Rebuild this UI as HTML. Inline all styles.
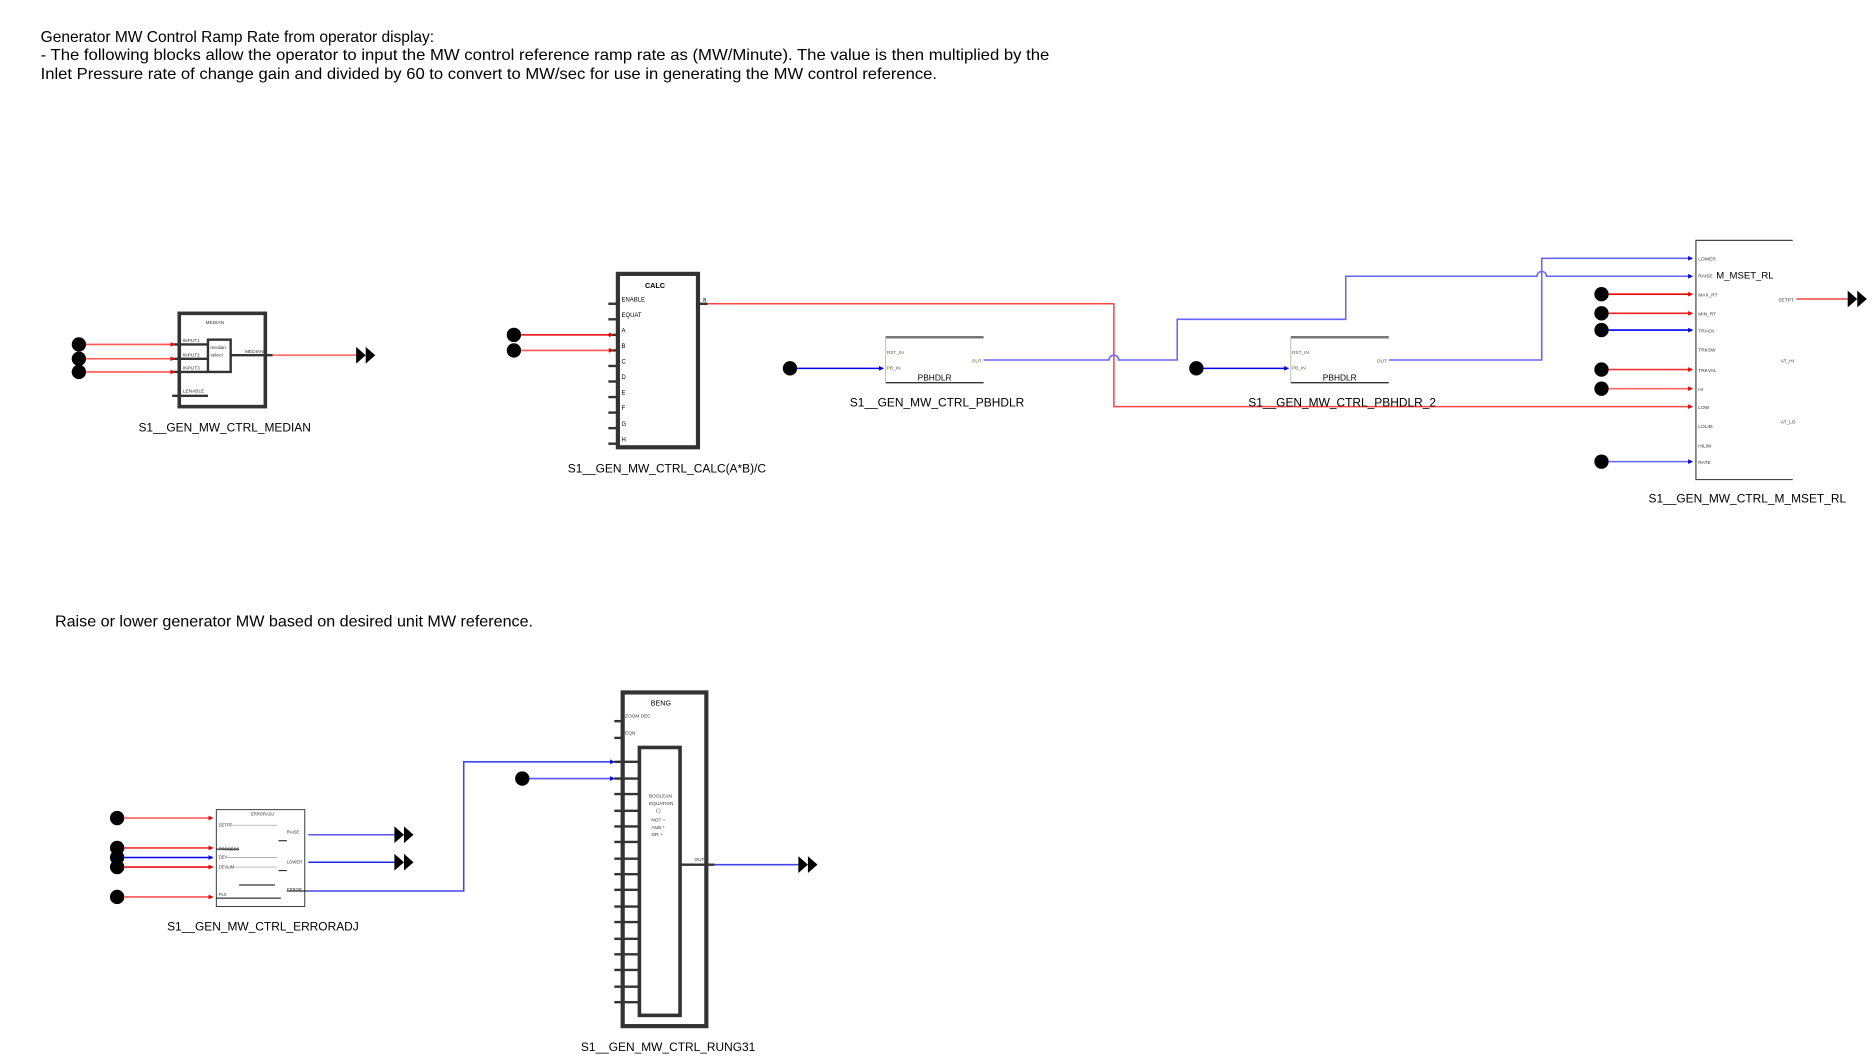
<!DOCTYPE html>
<html><head><meta charset="utf-8"><style>
html,body{margin:0;padding:0;background:#fff;}
svg{display:block;}
text{font-family:"Liberation Sans",sans-serif;}
</style></head><body>
<svg width="1874" height="1062" viewBox="0 0 1568 888" preserveAspectRatio="none" xmlns="http://www.w3.org/2000/svg">
<defs>
<marker id="ar" markerWidth="4" markerHeight="4" refX="3.5" refY="2" orient="auto" markerUnits="userSpaceOnUse"><path d="M0,0 L4,2 L0,4z" fill="#e00"/></marker>
<marker id="ab" markerWidth="4" markerHeight="4" refX="3.5" refY="2" orient="auto" markerUnits="userSpaceOnUse"><path d="M0,0 L4,2 L0,4z" fill="#00e"/></marker>
<g id="dbl"><path d="M0,-7 L8,0 L0,7z M8,-7 L16,0 L8,7z" fill="#000"/></g>
</defs>

<g font-size="13" fill="#000">
<text x="34" y="35">Generator MW Control Ramp Rate from operator display:</text>
<text x="34" y="50" textLength="844" lengthAdjust="spacingAndGlyphs">- The following blocks allow the operator to input the MW control reference ramp rate as (MW/Minute).  The value is then multiplied by the</text>
<text x="34" y="66" textLength="750" lengthAdjust="spacingAndGlyphs">Inlet Pressure rate of change gain and divided by 60 to convert to MW/sec for use in generating the MW control reference.</text>
<text x="46" y="524" textLength="400" lengthAdjust="spacingAndGlyphs">Raise or lower generator MW based on desired unit MW reference.</text>
</g>

<!-- MEDIAN -->
<g>
<rect x="150" y="262" width="72" height="78" fill="#fff" stroke="#333" stroke-width="3"/>
<rect x="174" y="284" width="19" height="27" fill="#fff" stroke="#333" stroke-width="2"/>
<line x1="144" y1="288" x2="174" y2="288" stroke="#333" stroke-width="2"/>
<line x1="144" y1="300" x2="174" y2="300" stroke="#333" stroke-width="2"/>
<line x1="144" y1="311" x2="174" y2="311" stroke="#333" stroke-width="2"/>
<line x1="144" y1="331" x2="174" y2="331" stroke="#333" stroke-width="2"/>
<line x1="193" y1="297" x2="228" y2="297" stroke="#333" stroke-width="2"/>
<g font-size="4" fill="#333"><text x="172" y="271">MEDIAN</text><text x="153" y="286">INPUT1</text><text x="153" y="298">INPUT2</text><text x="153" y="309">INPUT3</text><text x="153" y="328">LENABLE</text><text x="176" y="292">median</text><text x="176" y="298">select</text><text x="205" y="295">MEDIAN</text></g>
<circle cx="66" cy="288" r="6"/><circle cx="66" cy="300" r="6"/><circle cx="66" cy="311" r="6"/>
<line x1="72" y1="288" x2="146" y2="288" stroke="#f55" stroke-width="1.3" marker-end="url(#ar)"/>
<line x1="72" y1="300" x2="146" y2="300" stroke="#f55" stroke-width="1.3" marker-end="url(#ar)"/>
<line x1="72" y1="311" x2="146" y2="311" stroke="#f55" stroke-width="1.3" marker-end="url(#ar)"/>
<line x1="228" y1="297" x2="298" y2="297" stroke="#f77" stroke-width="1.5"/>
<use href="#dbl" x="298" y="297"/>
<text x="188" y="361" font-size="10" text-anchor="middle">S1__GEN_MW_CTRL_MEDIAN</text>
</g>

<!-- CALC -->
<g>
<rect x="517" y="229" width="67" height="145" fill="#fff" stroke="#333" stroke-width="3.5"/>
<text x="548" y="241" font-size="6" font-weight="bold" text-anchor="middle">CALC</text>
<g stroke="#333" stroke-width="2">
<line x1="509" y1="254" x2="517" y2="254"/><line x1="509" y1="267" x2="517" y2="267"/>
<line x1="509" y1="280" x2="517" y2="280"/><line x1="509" y1="293" x2="517" y2="293"/>
<line x1="509" y1="306" x2="517" y2="306"/><line x1="509" y1="319" x2="517" y2="319"/>
<line x1="509" y1="332" x2="517" y2="332"/><line x1="509" y1="345" x2="517" y2="345"/>
<line x1="509" y1="358" x2="517" y2="358"/><line x1="509" y1="371" x2="517" y2="371"/>
<line x1="584" y1="254" x2="592" y2="254"/>
</g>
<g font-size="5" fill="#000"><text x="520" y="252">ENABLE</text><text x="520" y="265">EQUAT</text><text x="520" y="278">A</text><text x="520" y="291">B</text><text x="520" y="304">C</text><text x="520" y="317">D</text><text x="520" y="330">E</text><text x="520" y="343">F</text><text x="520" y="356">G</text><text x="520" y="369">H</text><text x="588" y="252">a</text></g>
<circle cx="430" cy="280" r="6"/><circle cx="430" cy="293" r="6"/>
<line x1="436" y1="280" x2="513" y2="280" stroke="#e00" stroke-width="1.3" marker-end="url(#ar)"/>
<line x1="436" y1="293" x2="513" y2="293" stroke="#f55" stroke-width="1.3" marker-end="url(#ar)"/>
<text x="558" y="395" font-size="10" text-anchor="middle">S1__GEN_MW_CTRL_CALC(A*B)/C</text>
</g>

<polyline points="592,254 932,254 932,340 1416,340" fill="none" stroke="#f44" stroke-width="1.3" marker-end="url(#ar)"/>

<!-- PBHDLR 1 -->
<g>
<line x1="741" y1="282" x2="823" y2="282" stroke="#777" stroke-width="2"/>
<line x1="741" y1="320" x2="823" y2="320" stroke="#333" stroke-width="1.2"/>
<line x1="741" y1="282" x2="741" y2="320" stroke="#bbb" stroke-width="0.8"/>
<g font-size="4" fill="#654"><text x="742" y="296">RST_IN</text><text x="742" y="309">PB_IN</text><text x="813" y="303">OUT</text></g>
<text x="782" y="318" font-size="7" text-anchor="middle">PBHDLR</text>
<circle cx="661" cy="308" r="6"/>
<line x1="667" y1="308" x2="739" y2="308" stroke="#00e" stroke-width="1.3" marker-end="url(#ab)"/>
<text x="784" y="340" font-size="10" text-anchor="middle">S1__GEN_MW_CTRL_PBHDLR</text>
</g>
<path d="M823,301 L928,301 A4,4 0 0 1 936,301 L985,301 L985,267 L1126,267 L1126,231 L1286,231 A4,4 0 0 1 1294,231 L1416,231" fill="none" stroke="#66f" stroke-width="1.3" marker-end="url(#ab)"/>

<!-- PBHDLR 2 -->
<g>
<line x1="1080" y1="282" x2="1162" y2="282" stroke="#777" stroke-width="2"/>
<line x1="1080" y1="320" x2="1162" y2="320" stroke="#333" stroke-width="1.2"/>
<line x1="1080" y1="282" x2="1080" y2="320" stroke="#bbb" stroke-width="0.8"/>
<g font-size="4" fill="#654"><text x="1081" y="296">RST_IN</text><text x="1081" y="309">PB_IN</text><text x="1152" y="303">OUT</text></g>
<text x="1121" y="318" font-size="7" text-anchor="middle">PBHDLR</text>
<circle cx="1001" cy="308" r="6"/>
<line x1="1007" y1="308" x2="1078" y2="308" stroke="#00e" stroke-width="1.3" marker-end="url(#ab)"/>
<text x="1123" y="340" font-size="10" text-anchor="middle">S1__GEN_MW_CTRL_PBHDLR_2</text>
</g>
<polyline points="1162,301 1290,301 1290,216 1416,216" fill="none" stroke="#66f" stroke-width="1.3" marker-end="url(#ab)"/>

<!-- MSET_RL -->
<g>
<polyline points="1500,201 1419,201 1419,401 1500,401" fill="none" stroke="#444" stroke-width="1"/>
<text x="1460" y="233" font-size="8" text-anchor="middle">M_MSET_RL</text>
<g font-size="4" fill="#333">
<text x="1421" y="218">LOWER</text><text x="1421" y="232">RAISE</text><text x="1421" y="248">MAX_RT</text><text x="1421" y="264">MIN_RT</text><text x="1421" y="278">TRACK</text><text x="1421" y="294">TRKSW</text><text x="1421" y="311">TRKVAL</text><text x="1421" y="327">HI</text><text x="1421" y="342">LOW</text><text x="1421" y="358">LOLIM</text><text x="1421" y="374">HILIM</text><text x="1421" y="388">RATE</text>
<text x="1488" y="252">SETPT</text><text x="1490" y="303">AT_HI</text><text x="1490" y="354">AT_LO</text>
</g>
<circle cx="1340" cy="246" r="6"/><circle cx="1340" cy="262" r="6"/><circle cx="1340" cy="276" r="6"/>
<circle cx="1340" cy="309" r="6"/><circle cx="1340" cy="325" r="6"/><circle cx="1340" cy="386" r="6"/>
<line x1="1346" y1="246" x2="1416" y2="246" stroke="#e00" stroke-width="1.3" marker-end="url(#ar)"/>
<line x1="1346" y1="262" x2="1416" y2="262" stroke="#e22" stroke-width="1.3" marker-end="url(#ar)"/>
<line x1="1346" y1="276" x2="1416" y2="276" stroke="#00e" stroke-width="1.3" marker-end="url(#ab)"/>
<line x1="1346" y1="309" x2="1416" y2="309" stroke="#e33" stroke-width="1.3" marker-end="url(#ar)"/>
<line x1="1346" y1="325" x2="1416" y2="325" stroke="#f66" stroke-width="1.3" marker-end="url(#ar)"/>
<line x1="1346" y1="386" x2="1416" y2="386" stroke="#66f" stroke-width="1.3" marker-end="url(#ab)"/>
<line x1="1503" y1="250" x2="1546" y2="250" stroke="#e44" stroke-width="1.3"/>
<use href="#dbl" x="1546" y="250"/>
<text x="1462" y="420" font-size="10" text-anchor="middle">S1__GEN_MW_CTRL_M_MSET_RL</text>
</g>

<!-- ERRORADJ -->
<g>
<rect x="181" y="677" width="74" height="81" fill="#fff" stroke="#333" stroke-width="0.8"/>
<g font-size="3.5" fill="#333"><text x="210" y="682">ERRORADJ</text><text x="183" y="691">SETPT</text><text x="183" y="711">PROCESS</text><text x="183" y="718">DEV</text><text x="183" y="726">DEVLIM</text><text x="183" y="749">PLS</text><text x="240" y="697">RAISE</text><text x="240" y="722">LOWER</text><text x="240" y="745">ERROR</text></g>
<g stroke="#999" stroke-width="0.6"><line x1="190" y1="690" x2="232" y2="690"/><line x1="190" y1="717" x2="232" y2="717"/><line x1="190" y1="725" x2="232" y2="725"/></g>
<g stroke="#000" stroke-width="0.8"><line x1="181" y1="710" x2="200" y2="710"/><line x1="181" y1="751" x2="235" y2="751"/><line x1="200" y1="740" x2="230" y2="740"/><line x1="233" y1="703" x2="240" y2="703"/><line x1="233" y1="728" x2="240" y2="728"/><line x1="240" y1="745" x2="258" y2="745"/></g>
<circle cx="98" cy="684" r="6"/><circle cx="98" cy="709" r="6"/><circle cx="98" cy="717" r="6"/><circle cx="98" cy="725" r="6"/><circle cx="98" cy="750" r="6"/>
<line x1="104" y1="684" x2="178" y2="684" stroke="#f55" stroke-width="1.3" marker-end="url(#ar)"/>
<line x1="104" y1="709" x2="178" y2="709" stroke="#e33" stroke-width="1.3" marker-end="url(#ar)"/>
<line x1="104" y1="717" x2="178" y2="717" stroke="#00e" stroke-width="1.3" marker-end="url(#ab)"/>
<line x1="104" y1="725" x2="178" y2="725" stroke="#e11" stroke-width="1.3" marker-end="url(#ar)"/>
<line x1="104" y1="750" x2="178" y2="750" stroke="#f55" stroke-width="1.3" marker-end="url(#ar)"/>
<line x1="258" y1="698" x2="330" y2="698" stroke="#55f" stroke-width="1.3"/><use href="#dbl" x="330" y="698"/>
<line x1="258" y1="721" x2="330" y2="721" stroke="#22e" stroke-width="1.3"/><use href="#dbl" x="330" y="721"/>
<polyline points="258,745 388,745 388,637 514,637" fill="none" stroke="#44e" stroke-width="1.3" marker-end="url(#ab)"/>
<text x="220" y="778" font-size="10" text-anchor="middle">S1__GEN_MW_CTRL_ERRORADJ</text>
</g>

<!-- BENG -->
<g>
<rect x="521" y="579" width="70" height="279" fill="#fff" stroke="#333" stroke-width="3.5"/>
<rect x="535" y="625" width="34" height="224" fill="#fff" stroke="#333" stroke-width="3"/>
<text x="553" y="590" font-size="6" text-anchor="middle">BENG</text>
<g font-size="4" fill="#333"><text x="523" y="600">ZOOM DEC</text><text x="523" y="614">EQN</text><text x="543" y="667">BOOLEAN</text><text x="543" y="673">EQUATION</text><text x="549" y="679">( )</text><text x="545" y="687">NOT  =</text><text x="545" y="693">AND  *</text><text x="545" y="699">OR   +</text><text x="581" y="720">OUT</text></g>
<g stroke="#333" stroke-width="2">
<line x1="514" y1="603" x2="521" y2="603"/><line x1="514" y1="617" x2="521" y2="617"/>
<line x1="514" y1="637" x2="535" y2="637"/><line x1="514" y1="651" x2="535" y2="651"/>
<line x1="514" y1="664" x2="535" y2="664"/><line x1="514" y1="678" x2="535" y2="678"/>
<line x1="514" y1="691" x2="535" y2="691"/><line x1="514" y1="704" x2="535" y2="704"/>
<line x1="514" y1="718" x2="535" y2="718"/><line x1="514" y1="731" x2="535" y2="731"/>
<line x1="514" y1="744" x2="535" y2="744"/><line x1="514" y1="758" x2="535" y2="758"/>
<line x1="514" y1="771" x2="535" y2="771"/><line x1="514" y1="785" x2="535" y2="785"/>
<line x1="514" y1="798" x2="535" y2="798"/><line x1="514" y1="811" x2="535" y2="811"/>
<line x1="514" y1="825" x2="535" y2="825"/><line x1="514" y1="838" x2="535" y2="838"/>
<line x1="569" y1="723" x2="598" y2="723"/>
</g>
<circle cx="437" cy="651" r="6"/>
<line x1="443" y1="651" x2="514" y2="651" stroke="#55f" stroke-width="1.3" marker-end="url(#ab)"/>
<line x1="598" y1="723" x2="668" y2="723" stroke="#44e" stroke-width="1.3"/><use href="#dbl" x="668" y="723"/>
<text x="559" y="879" font-size="10" text-anchor="middle">S1__GEN_MW_CTRL_RUNG31</text>
</g>
</svg>
</body></html>
